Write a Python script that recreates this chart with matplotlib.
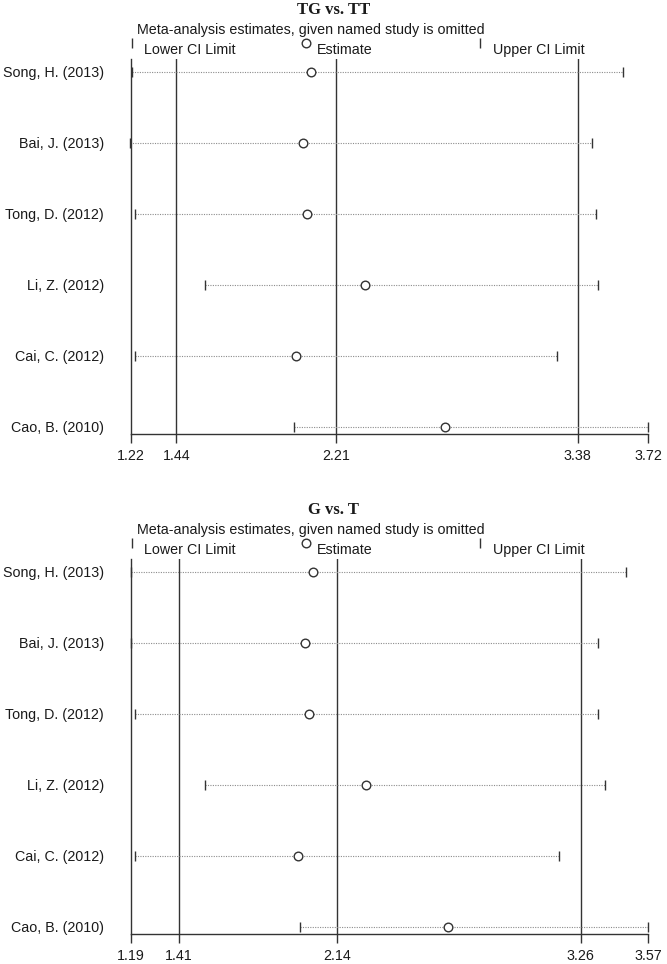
import matplotlib
matplotlib.use('Agg')
import matplotlib.pyplot as plt
from matplotlib.lines import Line2D

plt.rcParams['font.family'] = ['Liberation Sans', 'DejaVu Sans']

studies = ["Song, H. (2013)", "Bai, J. (2013)", "Tong, D. (2012)",
           "Li, Z. (2012)", "Cai, C. (2012)", "Cao, B. (2010)"]

subtitle = "Meta-analysis estimates, given named study is omitted"
legend_labels = ["Lower CI Limit", "Estimate", "Upper CI Limit"]

# Panel 1: TG vs. TT
tg_title = "TG vs. TT"
tg_est = [2.09, 2.05, 2.07, 2.35, 2.02, 2.74]
tg_low = [1.223, 1.215, 1.24, 1.58, 1.24, 2.01]
tg_up = [3.60, 3.45, 3.47, 3.48, 3.28, 3.72]
tg_overall = [1.44, 2.21, 3.38]          # lower CI, estimate, upper CI
tg_ticks = [1.22, 1.44, 2.21, 3.38, 3.72]

# Panel 2: G vs. T
g_title = "G vs. T"
g_est = [2.03, 1.99, 2.01, 2.27, 1.96, 2.65]
g_low = [1.19, 1.19, 1.21, 1.53, 1.21, 1.97]
g_up = [3.47, 3.34, 3.34, 3.37, 3.16, 3.57]
g_overall = [1.41, 2.14, 3.26]
g_ticks = [1.19, 1.41, 2.14, 3.26, 3.57]

W, H = 667, 964
fig = plt.figure(figsize=(W / 100, H / 100), dpi=100)
fig.patch.set_facecolor('white')

LC = '#333333'
TC = '#1a1a1a'
FS = 10.3


def fx(px):
    return px / W


def fy(py):
    return 1 - py / H


def panel(off, title, est, low, up, overall, ticks):
    ax = fig.add_axes([fx(131), fy(434 + off), (648 - 131) / W, (434 - 59) / H])
    ys = list(range(len(studies) - 1, -1, -1))
    ax.set_xlim(ticks[0], ticks[-1])
    ax.set_ylim(-0.1, 5.18)
    for v in overall:
        ax.axvline(v, color=LC, lw=1.0, zorder=1)
    ax.hlines(ys, low, up, linestyles=(0, (1, 1.2)), colors='#8c8c8c', lw=0.8, zorder=2)
    ax.plot(low, ys, linestyle='none', marker='|', ms=6.5, mew=1.0, color=LC, clip_on=False, zorder=3)
    ax.plot(up, ys, linestyle='none', marker='|', ms=6.5, mew=1.0, color=LC, clip_on=False, zorder=3)
    ax.plot(est, ys, linestyle='none', marker='o', ms=6.2, mew=1.0, mfc='white', mec=LC,
            clip_on=False, zorder=4)
    for s in ['top', 'right']:
        ax.spines[s].set_visible(False)
    for s in ['left', 'bottom']:
        ax.spines[s].set_color(LC)
        ax.spines[s].set_linewidth(1.0)
    ax.set_xticks(ticks)
    ax.set_xticklabels([f"{t:.2f}" for t in ticks], fontsize=FS, color=TC)
    ax.tick_params(axis='x', length=6.5, width=1.0, color=LC, pad=4)
    ax.set_yticks(ys)
    ax.set_yticklabels(studies, fontsize=FS, color=TC)
    ax.tick_params(axis='y', length=0, pad=19.5)

    fig.text(fx(334), fy(10 + off), title, ha='center', va='center',
             family=['Liberation Serif', 'DejaVu Serif'], weight='bold', size=12, color=TC)
    fig.text(fx(137), fy(30 + off), subtitle, ha='left', va='center', size=FS, color=TC)
    # legend
    fig.add_artist(Line2D([fx(132)], [fy(43 + off)], marker='|', ms=6.5, mew=1.0,
                          color=LC, transform=fig.transFigure))
    fig.add_artist(Line2D([fx(305.5)], [fy(43 + off)], marker='o', ms=6.2, mew=1.0,
                          mfc='white', mec=LC, transform=fig.transFigure))
    fig.add_artist(Line2D([fx(480)], [fy(43 + off)], marker='|', ms=6.5, mew=1.0,
                          color=LC, transform=fig.transFigure))
    for x, lab in zip([143.6, 317, 493], legend_labels):
        fig.text(fx(x), fy(50 + off), lab, ha='left', va='center', size=FS, color=TC)
    return ax


panel(0, tg_title, tg_est, tg_low, tg_up, tg_overall, tg_ticks)
panel(500, g_title, g_est, g_low, g_up, g_overall, g_ticks)

fig.savefig('out.png', dpi=100, facecolor='white')
